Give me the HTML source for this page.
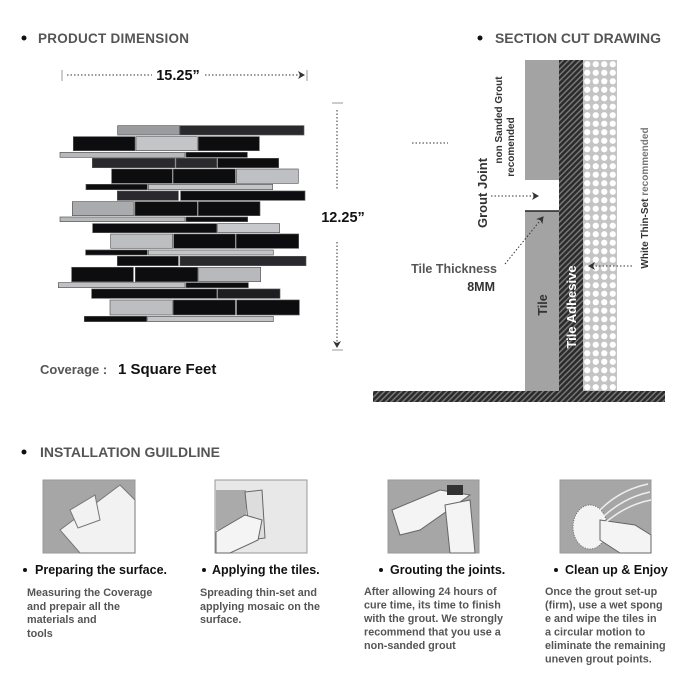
<!DOCTYPE html>
<html><head><meta charset="utf-8"><style>
html,body{margin:0;padding:0;background:#fff}
svg{display:block}
text{font-family:"Liberation Sans",Arial,sans-serif;font-weight:bold}
</style></head><body>
<svg width="700" height="700" viewBox="0 0 700 700" xmlns="http://www.w3.org/2000/svg">
<defs>
<pattern id="hatch" width="4" height="4" patternUnits="userSpaceOnUse" patternTransform="rotate(45)">
<rect width="4" height="4" fill="#2b2b2b"/><rect width="1.5" height="4" fill="#777"/>
</pattern>
<pattern id="dots" width="8.5" height="8.5" patternUnits="userSpaceOnUse" x="583" y="60">
<rect width="8.5" height="8.5" fill="#c4c4c4"/><circle cx="4.25" cy="4.25" r="3.1" fill="#fff"/>
</pattern>
<marker id="ah" markerWidth="8" markerHeight="8" refX="6" refY="4" orient="auto" markerUnits="userSpaceOnUse">
<path d="M0,0 L7,4 L0,8 L2,4z" fill="#333"/></marker>
</defs>

<circle cx="24" cy="38" r="2.5" fill="#111"/>
<text x="38" y="43" font-size="13.5" fill="#555" textLength="151">PRODUCT DIMENSION</text>
<circle cx="480" cy="38" r="2.5" fill="#111"/>
<text x="495" y="43" font-size="14" fill="#555" textLength="166">SECTION CUT DRAWING</text>

<line x1="62" y1="70" x2="62" y2="81" stroke="#bbb" stroke-width="1.5"/>
<line x1="307" y1="70" x2="307" y2="81" stroke="#bbb" stroke-width="1.5"/>
<line x1="67" y1="75" x2="152" y2="75" stroke="#333" stroke-dasharray="1.5,2"/>
<line x1="205" y1="75" x2="304" y2="75" stroke="#333" stroke-dasharray="1.5,2" marker-end="url(#ah)"/>
<text x="178" y="80" font-size="14.5" fill="#111" text-anchor="middle">15.25”</text>

<line x1="332" y1="103" x2="343" y2="103" stroke="#bbb" stroke-width="1.5"/>
<line x1="332" y1="350" x2="343" y2="350" stroke="#bbb" stroke-width="1.5"/>
<line x1="337" y1="110" x2="337" y2="190" stroke="#333" stroke-dasharray="1.5,2"/>
<line x1="337" y1="242" x2="337" y2="347" stroke="#333" stroke-dasharray="1.5,2" marker-end="url(#ah)"/>
<text x="343" y="222" font-size="14.5" fill="#111" text-anchor="middle">12.25”</text>

<g transform="translate(50,115) scale(0.3333)">
<g stroke="#555" stroke-width="2">
<rect x="203" y="32" width="185" height="28" fill="#9a9ca0"/><rect x="390" y="32" width="372" height="28" fill="#2a2a2e"/>
<rect x="70" y="65" width="185" height="42" fill="#0d0d10"/><rect x="258" y="65" width="184" height="42" fill="#c4c5c8"/><rect x="445" y="65" width="183" height="42" fill="#0d0d10"/>
<rect x="30" y="112" width="375" height="15" fill="#b8b9bc"/><rect x="408" y="112" width="184" height="15" fill="#0d0d10"/>
<rect x="127" y="130" width="248" height="28" fill="#2a2a2e"/><rect x="378" y="130" width="122" height="28" fill="#2a2a2e"/><rect x="503" y="130" width="183" height="28" fill="#0d0d10"/>
<rect x="185" y="162" width="182" height="43" fill="#0d0d10"/><rect x="370" y="162" width="186" height="43" fill="#0d0d10"/><rect x="559" y="162" width="186" height="43" fill="#bfc0c3"/>
<rect x="108" y="208" width="184" height="16" fill="#0d0d10"/><rect x="295" y="208" width="373" height="16" fill="#c4c5c8"/>
<rect x="202" y="228" width="183" height="28" fill="#2a2a2e"/><rect x="392" y="228" width="373" height="28" fill="#0d0d10"/>
<rect x="67" y="260" width="185" height="42" fill="#a9abae"/><rect x="255" y="260" width="187" height="42" fill="#0d0d10"/><rect x="445" y="260" width="185" height="42" fill="#0d0d10"/>
<rect x="30" y="306" width="375" height="14" fill="#b8b9bc"/><rect x="408" y="306" width="185" height="14" fill="#0d0d10"/>
<rect x="128" y="326" width="372" height="27" fill="#0d0d10"/><rect x="503" y="326" width="186" height="27" fill="#c8c9cc"/>
<rect x="182" y="357" width="186" height="43" fill="#bdbec1"/><rect x="371" y="357" width="185" height="43" fill="#0d0d10"/><rect x="559" y="357" width="187" height="43" fill="#0d0d10"/>
<rect x="107" y="405" width="185" height="15" fill="#0d0d10"/><rect x="295" y="405" width="375" height="15" fill="#c4c5c8"/>
<rect x="202" y="424" width="183" height="28" fill="#0d0d10"/><rect x="390" y="424" width="378" height="28" fill="#2a2a2e"/>
<rect x="65" y="457" width="185" height="43" fill="#0d0d10"/><rect x="256" y="457" width="187" height="43" fill="#0d0d10"/><rect x="446" y="457" width="186" height="43" fill="#b8b9bc"/>
<rect x="25" y="503" width="380" height="15" fill="#c0c1c4"/><rect x="408" y="503" width="187" height="15" fill="#0d0d10"/>
<rect x="125" y="522" width="375" height="28" fill="#0d0d10"/><rect x="503" y="522" width="187" height="28" fill="#1e1e22"/>
<rect x="180" y="555" width="187" height="45" fill="#bdbec1"/><rect x="370" y="555" width="186" height="45" fill="#0d0d10"/><rect x="560" y="555" width="188" height="45" fill="#0d0d10"/>
<rect x="103" y="604" width="187" height="16" fill="#0d0d10"/><rect x="293" y="604" width="377" height="16" fill="#c4c5c8"/>
</g></g>

<text x="40" y="374" font-size="13" fill="#555">Coverage :</text>
<text x="118" y="374" font-size="15" fill="#111">1 Square Feet</text>

<line x1="412" y1="143" x2="448" y2="143" stroke="#333" stroke-dasharray="1.5,2"/>
<rect x="525" y="60" width="34" height="120" fill="#a3a3a3"/>
<rect x="525" y="211" width="34" height="180" fill="#a3a3a3"/>
<line x1="525" y1="211" x2="559" y2="211" stroke="#222" stroke-width="1.5"/>
<rect x="559" y="60" width="24" height="331" fill="url(#hatch)"/>
<rect x="583" y="60" width="34" height="331" fill="url(#dots)"/>
<rect x="373" y="391" width="292" height="11" fill="url(#hatch)"/>

<text transform="translate(487,193) rotate(-90)" font-size="13" fill="#333" text-anchor="middle">Grout Joint</text>
<text transform="translate(502,120) rotate(-90)" font-size="10" fill="#333" text-anchor="middle">non Sanded Grout</text>
<text transform="translate(514,147) rotate(-90)" font-size="10" fill="#333" text-anchor="middle">recomended</text>
<line x1="491" y1="196" x2="538" y2="196" stroke="#333" stroke-dasharray="1.5,2" marker-end="url(#ah)"/>
<line x1="505" y1="264" x2="543" y2="217" stroke="#333" stroke-dasharray="1.5,2" marker-end="url(#ah)"/>
<text x="497" y="273" font-size="12.5" fill="#555" text-anchor="end">Tile Thickness</text>
<text x="495" y="291" font-size="12.5" fill="#333" text-anchor="end">8MM</text>
<text transform="translate(547,305) rotate(-90)" font-size="12.5" fill="#333" text-anchor="middle">Tile</text>
<text transform="translate(576,307) rotate(-90)" font-size="13" fill="#fff" text-anchor="middle">Tile Adhesive</text>
<text transform="translate(648,198) rotate(-90)" font-size="10" fill="#333" text-anchor="middle">White Thin-Set <tspan fill="#777">recommended</tspan></text>
<line x1="632" y1="266" x2="589" y2="266" stroke="#333" stroke-dasharray="1.5,2" marker-end="url(#ah)"/>

<circle cx="24" cy="452" r="2.5" fill="#111"/>
<text x="40" y="457" font-size="14" fill="#555" textLength="180">INSTALLATION GUILDLINE</text>

<g stroke="#999" stroke-width="1">
<rect x="43" y="480" width="92" height="73" fill="#a6a6a6"/>
<rect x="215" y="480" width="92" height="73" fill="#e8e8e8"/>
<rect x="388" y="480" width="91" height="73" fill="#a6a6a6"/>
<rect x="560" y="480" width="91" height="73" fill="#a6a6a6"/>
</g>
<path d="M60,530 L120,485 L135,500 L135,553 L80,553 Z" fill="#f2f2f2" stroke="#777"/>
<path d="M70,510 L95,495 L100,520 L78,528 Z" fill="#f2f2f2" stroke="#777"/>
<rect x="216" y="490" width="30" height="40" fill="#aaa"/>
<path d="M245,492 L262,490 L265,538 L250,540 Z" fill="#ddd" stroke="#666"/>
<path d="M216,532 L245,515 L262,520 L258,540 L230,553 L216,553Z" fill="#f4f4f4" stroke="#666"/>
<path d="M392,510 L440,490 L470,495 L420,530 L400,535 Z" fill="#f4f4f4" stroke="#666"/>
<rect x="447" y="485" width="16" height="10" fill="#333"/>
<path d="M445,505 L470,500 L475,553 L450,553 Z" fill="#f4f4f4" stroke="#666"/>
<ellipse cx="590" cy="527" rx="17" ry="22" fill="#f4f4f4" stroke="#666" stroke-dasharray="1,1.5"/>
<path d="M600,520 L635,525 L651,535 L651,553 L620,553 L600,540Z" fill="#f4f4f4" stroke="#666"/>
<path d="M600,510 Q620,490 648,484 M604,516 Q625,497 650,492 M606,522 Q628,504 651,500" stroke="#eee" stroke-width="1.5" fill="none"/>

<g font-size="12.5" fill="#111">
<circle cx="25" cy="570" r="2" fill="#111"/><text x="35" y="574">Preparing the surface.</text>
<circle cx="204" cy="570" r="2" fill="#111"/><text x="212" y="574">Applying the tiles.</text>
<circle cx="381" cy="570" r="2" fill="#111"/><text x="390" y="574">Grouting the joints.</text>
<circle cx="556" cy="570" r="2" fill="#111"/><text x="565" y="574">Clean up &amp; Enjoy</text>
</g>
<g font-size="10.8" fill="#555">
<text x="27" y="596">Measuring the Coverage</text>
<text x="27" y="610">and prepair all the</text>
<text x="27" y="623">materials and</text>
<text x="27" y="637">tools</text>
<text x="200" y="596">Spreading thin-set and</text>
<text x="200" y="610">applying mosaic on the</text>
<text x="200" y="623">surface.</text>
<text x="364" y="595">After allowing 24 hours of</text>
<text x="364" y="608.5">cure time, its time to finish</text>
<text x="364" y="622">with the grout. We strongly</text>
<text x="364" y="635.5">recommend that you use a</text>
<text x="364" y="649">non-sanded grout</text>
<text x="545" y="595">Once the grout set-up</text>
<text x="545" y="608.5">(firm), use a wet spong</text>
<text x="545" y="622">e and wipe the tiles in</text>
<text x="545" y="635.5"> a circular motion to</text>
<text x="545" y="649">eliminate the remaining</text>
<text x="545" y="662.5">uneven grout points.</text>
</g>
</svg>
</body></html>
